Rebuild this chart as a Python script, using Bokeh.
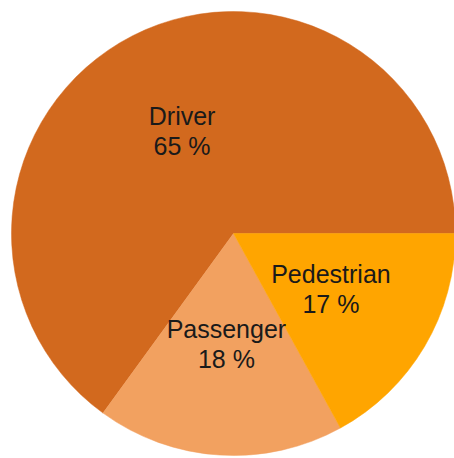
import math
from bokeh.plotting import figure
from bokeh.models import Range1d, ColumnDataSource
from bokeh.core.properties import value
from bokeh.embed import file_html
from bokeh.resources import INLINE

# Data (counter-clockwise order starting at 3 o'clock)
categories = ["Driver", "Passenger", "Pedestrian"]
shares = [65, 18, 17]
colors = ["#D2691E", "#F2A160", "#FFA500"]

W, H = 454, 458
cx, cy = 233, H - 233
R = 222

total = sum(shares)
starts, ends, lx, ly, names, pcts = [], [], [], [], [], []
acc = 0.0
for c, s in zip(categories, shares):
    a0 = 2 * math.pi * acc / total
    acc += s
    a1 = 2 * math.pi * acc / total
    starts.append(a0)
    ends.append(a1)
    mid = (a0 + a1) / 2
    lx.append(cx + 0.51 * R * math.cos(mid))
    ly.append(cy + 0.51 * R * math.sin(mid))
    names.append(c)
    pcts.append(f"{s} %")

src = ColumnDataSource(dict(start=starts, end=ends, color=colors,
                            lx=lx, ly=ly, name=names, pct=pcts))

p = figure(width=W, height=H, output_backend="svg", toolbar_location=None,
           x_range=Range1d(0, W), y_range=Range1d(0, H), min_border=0)
p.axis.visible = False
p.grid.visible = False
p.outline_line_color = None
p.background_fill_color = "white"
p.border_fill_color = "white"

p.wedge(x=cx, y=cy, radius=R, start_angle="start", end_angle="end",
        fill_color="color", line_color="color", line_width=0.5, source=src)

p.text(x="lx", y="ly", text="name", source=src, text_align="center",
       text_baseline="middle", y_offset=-17, text_font=value("Liberation Sans"),
       text_font_size="25px", text_color="#1a1a1a")
p.text(x="lx", y="ly", text="pct", source=src, text_align="center",
       text_baseline="middle", y_offset=13, text_font=value("Liberation Sans"),
       text_font_size="25px", text_color="#1a1a1a")

open("out.html", "w").write(file_html(p, INLINE))
